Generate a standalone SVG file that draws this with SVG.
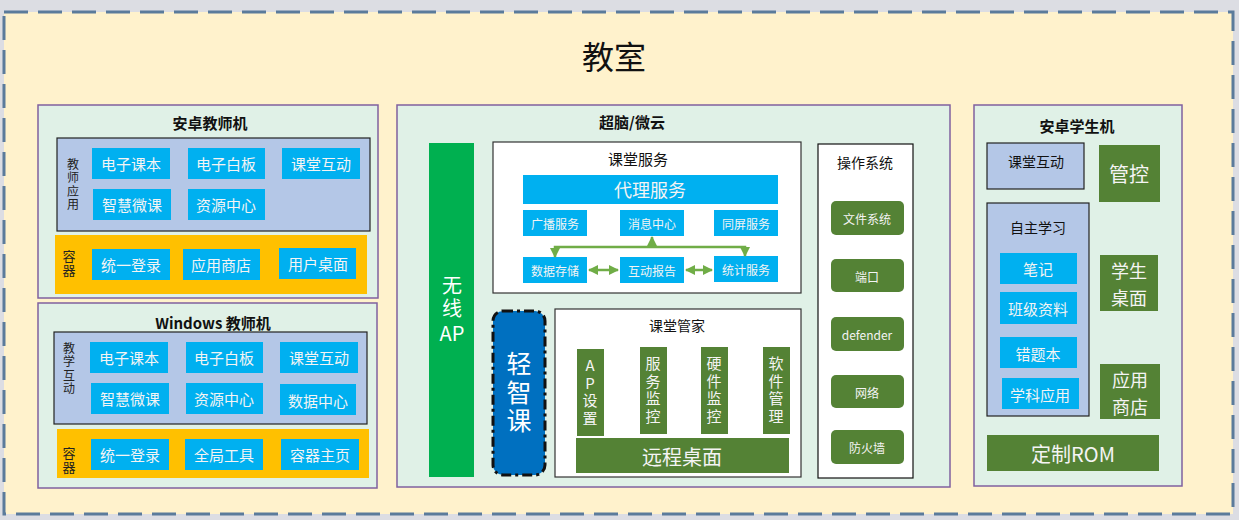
<svg xmlns="http://www.w3.org/2000/svg" width="1239" height="520" viewBox="0 0 1239 520">
<defs>
<style>
text{font-family:"Noto Sans CJK SC","Liberation Sans",sans-serif;text-anchor:middle;dominant-baseline:central}
.v{writing-mode:vertical-rl;text-orientation:upright}
.panel{fill:#e0f1e7;stroke:#80609f;stroke-width:1.5}
.inner{fill:#b4c7e7;stroke:#222;stroke-width:1.2}
.cont{fill:#ffc000}
.blue{fill:#00b0f0}
.bt{fill:#f4f4f4;font-size:15px}
.bts{fill:#f4f4f4;font-size:12px}
.white{fill:#fff;stroke:#333;stroke-width:1.2}
.dg{fill:#548235}
.gt{fill:#f4f4f4}
.vt{fill:#f4f4f4;font-size:15px;letter-spacing:2.5px}
.title{font-size:15px;font-weight:bold;fill:#111}
.lbl{font-size:12px;fill:#222;letter-spacing:1.5px}
.conn{stroke:#70ad47;stroke-width:2.5;fill:none}
</style>
<marker id="ah" viewBox="0 0 10 10" refX="9" refY="5" markerWidth="4" markerHeight="4" orient="auto-start-reverse" markerUnits="strokeWidth">
<path d="M0,0 L10,5 L0,10 z" fill="#70ad47"/>
</marker>
</defs>
<rect x="0" y="0" width="1239" height="520" fill="#dcdde3"/>
<g id="classroom">
<rect x="4" y="12" width="1229" height="502" fill="#fff2cc" stroke="#5b7b9b" stroke-width="3" stroke-dasharray="24 10"/>
<text x="614" y="55" style="font-size:32px" fill="#111">教室</text>
</g>

<g id="android-teacher">
<rect class="panel" x="38" y="105" width="340" height="193"/>
<text class="title" x="210" y="122">安卓教师机</text>
<rect class="inner" x="57" y="138" width="313" height="93"/>
<text class="lbl v" x="73" y="185">教师应用</text>
<rect class="blue" x="92" y="148" width="78" height="31"/><text class="bt" x="131" y="163">电子课本</text>
<rect class="blue" x="188" y="148" width="77" height="31"/><text class="bt" x="226" y="163">电子白板</text>
<rect class="blue" x="282" y="148" width="78" height="31"/><text class="bt" x="321" y="163">课堂互动</text>
<rect class="blue" x="93" y="189" width="78" height="31"/><text class="bt" x="132" y="204">智慧微课</text>
<rect class="blue" x="188" y="189" width="77" height="31"/><text class="bt" x="226" y="204">资源中心</text>
<rect class="cont" x="55" y="235" width="312" height="59"/>
<text class="lbl v" x="69" y="264" style="font-size:13px">容器</text>
<rect class="blue" x="92" y="249" width="78" height="31"/><text class="bt" x="131" y="264">统一登录</text>
<rect class="blue" x="183" y="249" width="77" height="31"/><text class="bt" x="221" y="264">应用商店</text>
<rect class="blue" x="279" y="248" width="77" height="31"/><text class="bt" x="318" y="263">用户桌面</text>
</g>

<g id="windows-teacher">
<rect class="panel" x="38" y="303" width="339" height="185"/>
<text class="title" x="213" y="322">Windows 教师机</text>
<rect class="inner" x="54" y="332" width="313" height="92"/>
<text class="lbl v" x="69" y="369">教学互动</text>
<rect class="blue" x="90" y="342" width="78" height="31"/><text class="bt" x="129" y="357">电子课本</text>
<rect class="blue" x="186" y="342" width="77" height="31"/><text class="bt" x="224" y="357">电子白板</text>
<rect class="blue" x="280" y="342" width="78" height="31"/><text class="bt" x="319" y="357">课堂互动</text>
<rect class="blue" x="91" y="383" width="78" height="31"/><text class="bt" x="130" y="398">智慧微课</text>
<rect class="blue" x="186" y="383" width="77" height="31"/><text class="bt" x="224" y="398">资源中心</text>
<rect class="blue" x="280" y="384" width="76" height="31"/><text class="bt" x="318" y="400">数据中心</text>
<rect class="cont" x="57" y="429" width="312" height="49"/>
<text class="lbl v" x="69" y="461" style="font-size:13px">容器</text>
<rect class="blue" x="91" y="439" width="78" height="31"/><text class="bt" x="130" y="454">统一登录</text>
<rect class="blue" x="185" y="439" width="78" height="31"/><text class="bt" x="224" y="454">全局工具</text>
<rect class="blue" x="281" y="439" width="78" height="31"/><text class="bt" x="320" y="454">容器主页</text>
</g>

<g id="cloud">
<rect class="panel" x="397" y="105" width="553" height="382"/>
<text class="title" x="632" y="121">超脑/微云</text>
</g>

<g id="wireless-ap">
<rect x="429" y="143" width="45" height="334" fill="#00b050"/>
<text class="v" x="452" y="298" style="font-size:20px;letter-spacing:3px" fill="#fff">无线</text>
<text x="452" y="332" style="font-size:20px" fill="#fff">AP</text>
</g>

<g id="class-service">
<rect class="white" x="493" y="142" width="308" height="151"/>
<text x="638" y="158" style="font-size:15px" fill="#111">课堂服务</text>
<rect class="blue" x="523" y="175" width="255" height="29"/><text class="gt" x="650" y="189" style="font-size:18px">代理服务</text>
<rect class="blue" x="523" y="210" width="64" height="26"/><text class="bts" x="555" y="223">广播服务</text>
<rect class="blue" x="620" y="210" width="64" height="26"/><text class="bts" x="652" y="223">消息中心</text>
<rect class="blue" x="714" y="210" width="64" height="26"/><text class="bts" x="746" y="223">同屏服务</text>
<rect class="blue" x="523" y="257" width="64" height="26"/><text class="bts" x="555" y="270">数据存储</text>
<rect class="blue" x="620" y="257" width="64" height="26"/><text class="bts" x="652" y="270">互动报告</text>
<rect class="blue" x="714" y="256" width="64" height="26"/><text class="bts" x="746" y="269">统计服务</text>
</g>

<g id="connectors">
<path class="conn" d="M555,257 V247 H745 V256" marker-start="url(#ah)" marker-end="url(#ah)"/>
<path class="conn" d="M652,247 V237" marker-end="url(#ah)"/>
<path class="conn" d="M589,270 H618" marker-start="url(#ah)" marker-end="url(#ah)"/>
<path class="conn" d="M686,270 H712" marker-start="url(#ah)" marker-end="url(#ah)"/>
</g>

<g id="qingzhike">
<rect x="493" y="311" width="52" height="164" rx="10" fill="#0070c0" stroke="#111" stroke-width="3" stroke-dasharray="10 4 3 4"/>
<text class="v" x="519" y="394" style="font-size:25px;letter-spacing:3.5px" fill="#fff">轻智课</text>
</g>

<g id="class-butler">
<rect class="white" x="555" y="309" width="246" height="168"/>
<text x="677" y="325" style="font-size:14px" fill="#111">课堂管家</text>
<rect class="dg" x="577" y="349" width="27" height="87"/>
<text class="vt v" x="590" y="393">AP设置</text>
<rect class="dg" x="640" y="347" width="27" height="87"/>
<text class="vt v" x="653" y="391">服务监控</text>
<rect class="dg" x="701" y="347" width="27" height="87"/>
<text class="vt v" x="714" y="391">硬件监控</text>
<rect class="dg" x="763" y="347" width="27" height="87"/>
<text class="vt v" x="776" y="391">软件管理</text>
<rect class="dg" x="576" y="438" width="213" height="35"/>
<text class="gt" x="682" y="456" style="font-size:20px">远程桌面</text>
</g>

<g id="os">
<rect class="white" x="818" y="144" width="95" height="334" style="stroke:#111"/>
<text x="865" y="162" style="font-size:14px" fill="#111">操作系统</text>
<rect class="dg" x="831" y="201" width="73" height="34" rx="5"/><text class="bts" x="867" y="218">文件系统</text>
<rect class="dg" x="831" y="259" width="73" height="33" rx="5"/><text class="bts" x="867" y="276">端口</text>
<rect class="dg" x="831" y="317" width="73" height="34" rx="5"/><text class="bts" x="867" y="334">defender</text>
<rect class="dg" x="831" y="375" width="73" height="33" rx="5"/><text class="bts" x="867" y="392">网络</text>
<rect class="dg" x="831" y="430" width="73" height="34" rx="5"/><text class="bts" x="867" y="447">防火墙</text>
</g>

<g id="android-student">
<rect class="panel" x="974" y="105" width="208" height="381"/>
<text class="title" x="1077" y="125">安卓学生机</text>
<rect class="inner" x="987" y="143" width="97" height="46"/>
<text x="1036" y="161" style="font-size:14px" fill="#111">课堂互动</text>
<rect class="dg" x="1099" y="145" width="61" height="57"/>
<text class="gt" x="1129" y="173" style="font-size:20px">管控</text>
<rect class="inner" x="987" y="203" width="102" height="213"/>
<text x="1038" y="227" style="font-size:14px" fill="#111">自主学习</text>
<rect class="blue" x="1000" y="253" width="77" height="31"/><text class="bt" x="1038" y="268">笔记</text>
<rect class="blue" x="1000" y="292" width="77" height="32"/><text class="bt" x="1038" y="308">班级资料</text>
<rect class="blue" x="1000" y="337" width="77" height="31"/><text class="bt" x="1038" y="353">错题本</text>
<rect class="blue" x="1002" y="378" width="77" height="31"/><text class="bt" x="1040" y="394">学科应用</text>
<rect class="dg" x="1100" y="255" width="58" height="56"/>
<text class="gt" x="1129" y="270" style="font-size:18px">学生</text>
<text class="gt" x="1129" y="296.5" style="font-size:18px">桌面</text>
<rect class="dg" x="1100" y="364" width="60" height="55"/>
<text class="gt" x="1130" y="379" style="font-size:18px">应用</text>
<text class="gt" x="1130" y="405.5" style="font-size:18px">商店</text>
<rect class="dg" x="987" y="435" width="172" height="36"/>
<text class="gt" x="1073" y="453" style="font-size:20px">定制ROM</text>
</g>
</svg>
